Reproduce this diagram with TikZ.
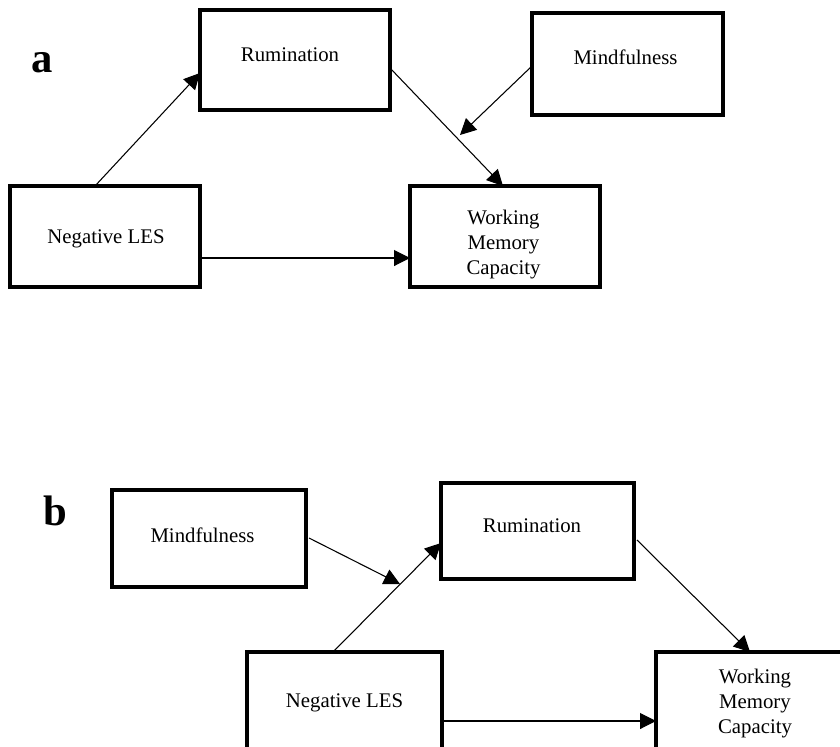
\documentclass[tikz,border=0pt]{standalone}
\usepackage{fontspec}
\setmainfont{Liberation Serif}
\usetikzlibrary{arrows.meta,calc}
\begin{document}
\begin{tikzpicture}[x=0.75pt,y=-0.75pt,
  box/.style={draw,line width=2.3pt,inner sep=0pt,outer sep=0pt},
  txt/.style={font=\fontsize{15.6pt}{18.75pt}\selectfont,inner sep=0pt,text height=10.3pt,text depth=0pt},
  wtxt/.style={font=\fontsize{15.6pt}{18.75pt}\selectfont,inner sep=0pt,align=center},
  arr/.style={-{Triangle[length=12pt,width=12pt]},line width=0.8pt},
  panel/.style={font=\fontsize{32pt}{36pt}\selectfont\bfseries,inner sep=0pt,anchor=base}]
\useasboundingbox (0,0) rectangle (840,747);
\clip (0,0) rectangle (840,747);
% panel a
\node[panel] (la) at (42.5,72) {a};
\node[box,minimum width=142.5pt,minimum height=75pt] (aRum) at (295,60) {};
\node[txt] (aRumT) at ($(aRum.center)+(-5,-5)$) {Rumination};
\node[box,minimum width=143.25pt,minimum height=76.5pt] (aMind) at (627.5,64) {};
\node[txt] (aMindT) at ($(aMind.center)+(-2,-6.5)$) {Mindfulness};
\node[box,minimum width=142.5pt,minimum height=75.75pt] (aNeg) at (105,236.5) {};
\node[txt] (aNegT) at ($(aNeg.center)+(1,0)$) {Negative LES};
\node[box,minimum width=142.5pt,minimum height=75.75pt] (aWMC) at (505,236.5) {};
\node[wtxt] (aWMCT) at ($(aWMC.center)+(-1.5,8)$) {Working\\Memory\\Capacity};
\draw[arr] ($(aNeg.north)+(-10,0)$) -- ($(aRum.west)+(0,13)$);
\draw[arr] ($(aNeg.east)+(0,21.5)$) -- ($(aWMC.west)+(0,21.5)$);
\draw[arr] ($(aRum.east)+(0,8)$) -- ($(aWMC.north)+(-2,0)$);
\coordinate (aMod) at (460,135);
\draw[arr] ($(aMind.west)+(0,2)$) -- (aMod);
% panel b
\node[panel] (lb) at (55,525) {b};
\node[box,minimum width=145.5pt,minimum height=72.75pt] (bMind) at (209,538.5) {};
\node[txt] (bMindT) at ($(bMind.center)+(-6.5,-3)$) {Mindfulness};
\node[box,minimum width=144.75pt,minimum height=72pt] (bRum) at (537.5,531) {};
\node[txt] (bRumT) at ($(bRum.center)+(-5.5,-5.5)$) {Rumination};
\node[box,minimum width=146.25pt,minimum height=75pt] (bNeg) at (344.5,702) {};
\node[txt] (bNegT) at ($(bNeg.center)+(0,-1.5)$) {Negative LES};
\node[box,minimum width=145.5pt,minimum height=75pt] (bWMC) at (753,702) {};
\node[wtxt] (bWMCT) at ($(bWMC.center)+(2,1.5)$) {Working\\Memory\\Capacity};
\draw[arr] ($(bNeg.north)+(-11.5,0)$) -- ($(bRum.west)+(0,12)$);
\coordinate (bMod) at (400,584);
\draw[arr] ($(bMind.east)+(3,-0.5)$) -- (bMod);
\draw[arr] ($(bRum.east)+(3,9)$) -- ($(bWMC.north)+(-3,0)$);
\draw[arr] ($(bNeg.east)+(0,19)$) -- ($(bWMC.west)+(0,19)$);
\end{tikzpicture}
\end{document}
